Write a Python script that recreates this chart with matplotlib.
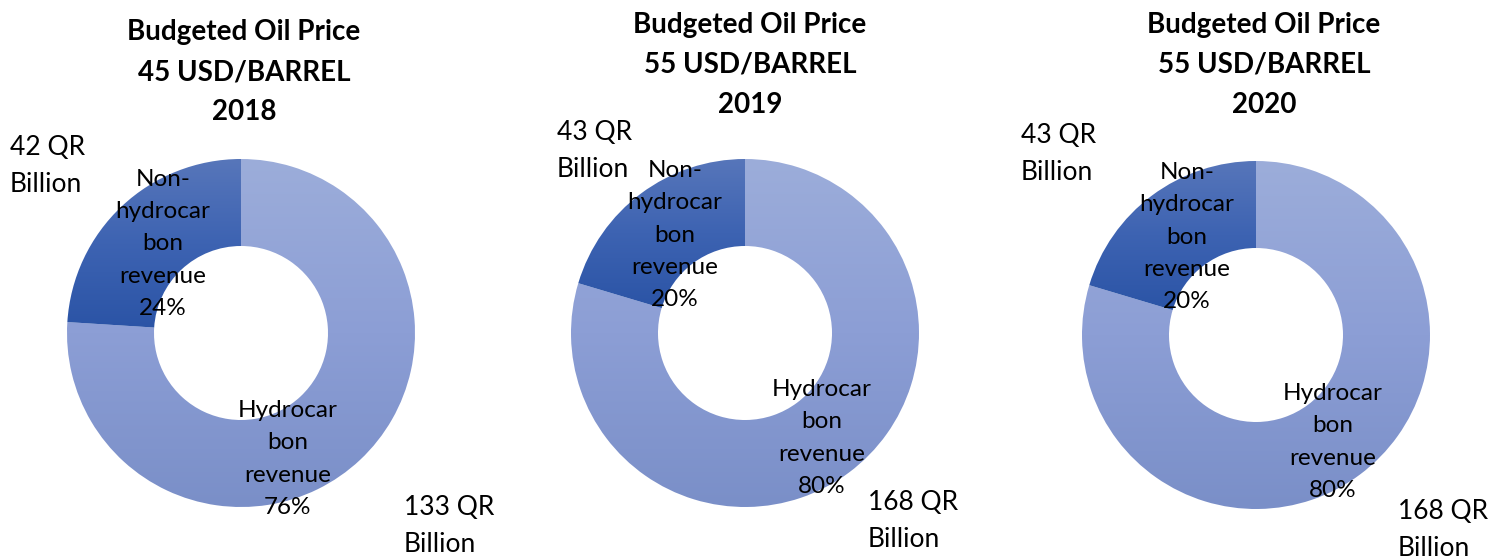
import numpy as np
import matplotlib
matplotlib.use("Agg")
import matplotlib.pyplot as plt
from matplotlib.colors import LinearSegmentedColormap

plt.rcParams['font.family'] = ['Lato', 'DejaVu Sans']

# budget revenue split, QR billion
years = ["2018", "2019", "2020"]
oil_prices = [45, 55, 55]
hydrocarbon = [133, 168, 168]
non_hydrocarbon = [42, 43, 43]
hydro_pct = ["76%", "80%", "80%"]
non_hydro_pct = ["24%", "20%", "20%"]

W, H = 1499, 559
fig = plt.figure(figsize=(W / 100, H / 100), dpi=100)
ax = fig.add_axes([0, 0, 1, 1])

light = LinearSegmentedColormap.from_list("light", ["#7a8fc8", "#8c9ed5", "#9cadda"])
dark = LinearSegmentedColormap.from_list("dark", ["#2b54a6", "#3d63b2", "#5776ba"])

# layout per chart, in pixels from the top-left: donut centre, and the
# middle of each text block
layout = [
    dict(c=(241, 333), title=(244, 72), val_n=(10, 166), lab_n=(163, 244),
         lab_h=(288, 459), val_h=(404, 526)),
    dict(c=(745, 333), title=(750, 65), val_n=(557, 151), lab_n=(675, 235),
         lab_h=(822, 438), val_h=(868, 521)),
    dict(c=(1256, 335), title=(1264, 65), val_n=(1021, 154), lab_n=(1187, 237),
         lab_h=(1333, 442), val_h=(1398, 530)),
]
R = 174


def y(px):
    return H - px


for i, lay in enumerate(layout):
    cx, cy = lay["c"][0], y(lay["c"][1])
    wedges, _ = ax.pie([hydrocarbon[i], non_hydrocarbon[i]], center=(cx, cy), radius=R,
                       startangle=90, counterclock=False,
                       wedgeprops=dict(width=R * 0.5, edgecolor="none", facecolor="none"),
                       frame=True)
    # vertical gradient fill clipped to each wedge
    for w, cmap in zip(wedges, [light, dark]):
        bb = w.get_path().get_extents()
        grad = np.linspace(0, 1, 256).reshape(-1, 1)
        im = ax.imshow(grad, cmap=cmap, origin="lower", aspect="auto",
                       extent=(bb.x0, bb.x1, bb.y0, bb.y1), zorder=1)
        im.set_clip_path(w)

    tx, ty = lay["title"]
    ax.text(tx, y(ty), f"Budgeted Oil Price\n{oil_prices[i]} USD/BARREL\n{years[i]}",
            ha="center", va="center", fontsize=20, fontweight="bold",
            linespacing=1.66, zorder=3)

    ax.text(lay["val_n"][0], y(lay["val_n"][1]), f"{non_hydrocarbon[i]} QR\nBillion",
            ha="left", va="center", fontsize=19, linespacing=1.6, zorder=3)
    ax.text(lay["val_h"][0], y(lay["val_h"][1]), f"{hydrocarbon[i]} QR\nBillion",
            ha="left", va="center", fontsize=19, linespacing=1.6, zorder=3)

    ax.text(lay["lab_n"][0], y(lay["lab_n"][1]),
            f"Non-\nhydrocar\nbon\nrevenue\n{non_hydro_pct[i]}",
            ha="center", va="center", fontsize=17.5, linespacing=1.67, zorder=3)
    ax.text(lay["lab_h"][0], y(lay["lab_h"][1]),
            f"Hydrocar\nbon\nrevenue\n{hydro_pct[i]}",
            ha="center", va="center", fontsize=17.5, linespacing=1.67, zorder=3)

ax.set_xlim(0, W)
ax.set_ylim(0, H)
ax.set_aspect("equal")
ax.axis("off")
fig.savefig("out.png", dpi=100)
